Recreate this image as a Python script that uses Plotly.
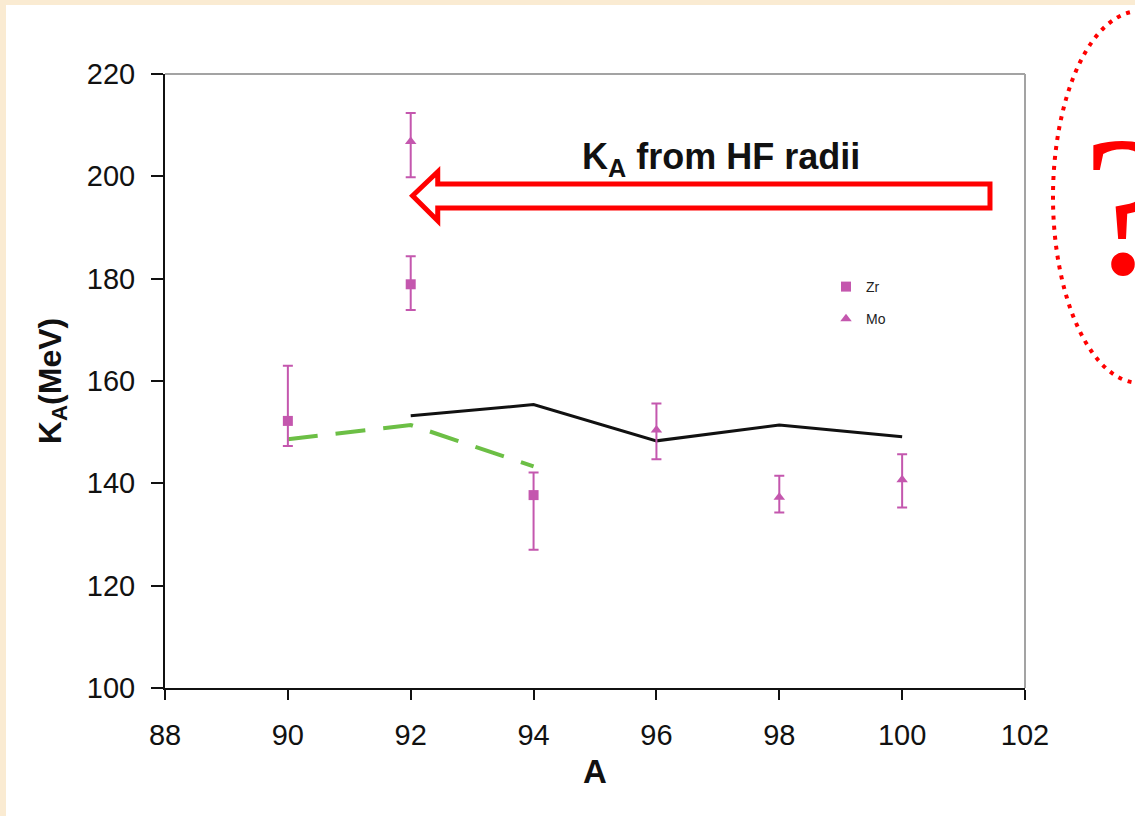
import plotly.graph_objects as go

# Measured incompressibility K_A for Zr and Mo isotopes
A_zr = [90, 92, 94]
K_zr = [152.2, 178.9, 137.7]
zr_err_plus = [10.8, 5.5, 4.4]
zr_err_minus = [4.9, 5.0, 10.7]

A_mo = [92, 96, 98, 100]
K_mo = [206.8, 150.4, 137.3, 140.7]
mo_err_plus = [5.6, 5.2, 4.2, 5.0]
mo_err_minus = [7.0, 5.7, 3.0, 5.4]

# Calculated curves
A_calc = [92, 94, 96, 98, 100]
K_calc = [153.2, 155.4, 148.3, 151.4, 149.1]

A_calc2 = [90, 92, 94]
K_calc2 = [148.6, 151.4, 143.3]

x_ticks = [88, 90, 92, 94, 96, 98, 100, 102]
y_ticks = [100, 120, 140, 160, 180, 200, 220]

W, H = 1135, 816
L, R, T, B = 165, 110, 74, 128
PW, PH = W - L - R, H - T - B


def px(x):
    return (x - L) / PW


def py(y):
    return (H - B - y) / PH


FONT = "Liberation Sans, Arial, sans-serif"
MAG = "#C457AE"

fig = go.Figure()

fig.add_trace(go.Scatter(
    x=A_calc2, y=K_calc2, mode="lines", showlegend=False,
    line=dict(color="#6CBF45", width=4, dash="30px,18px"),
))
fig.add_trace(go.Scatter(
    x=A_calc, y=K_calc, mode="lines", showlegend=False,
    line=dict(color="#111111", width=3),
))
fig.add_trace(go.Scatter(
    x=A_zr, y=K_zr, mode="markers", name="Zr", legendgroup="zr",
    marker=dict(symbol="square", size=10, color=MAG),
    error_y=dict(type="data", symmetric=False, array=zr_err_plus,
                 arrayminus=zr_err_minus, color=MAG, thickness=2, width=5),
))
fig.add_trace(go.Scatter(
    x=A_mo, y=K_mo, mode="markers", name="Mo", legendgroup="mo",
    marker=dict(symbol="triangle-up", size=10, color=MAG),
    error_y=dict(type="data", symmetric=False, array=mo_err_plus,
                 arrayminus=mo_err_minus, color=MAG, thickness=2, width=5),
))

shapes = [
    # white page on the beige background
    dict(type="rect", xref="paper", yref="paper", layer="below",
         x0=px(6), x1=px(W + 5), y0=py(H + 5), y1=py(5),
         fillcolor="white", line=dict(width=0)),
    # grey frame on the top and right of the plot area
    dict(type="line", xref="paper", yref="paper", x0=0, x1=1, y0=1, y1=1,
         line=dict(color="#A3A3A3", width=2)),
    dict(type="line", xref="paper", yref="paper", x0=1, x1=1, y0=0, y1=1,
         line=dict(color="#A3A3A3", width=2)),
    # hollow arrow pointing left
    dict(type="path", xref="x", yref="y",
         path="M 101.43,198.5 L 92.44,198.5 L 92.44,200.9 L 92.03,196.2 "
              "L 92.44,191.3 L 92.44,193.8 L 101.43,193.8 Z",
         line=dict(color="#FF0000", width=5), fillcolor="white"),
    # dotted ellipse around the question mark
    dict(type="circle", xref="paper", yref="paper",
         x0=px(1053), x1=px(1227), y0=py(383), y1=py(11),
         line=dict(color="#FF0000", width=4, dash="4px,6px")),
]

annotations = [
    dict(text="<b>K<sub>A</sub> from HF radii</b>", x=97.05, y=203.4,
         xref="x", yref="y", showarrow=False,
         font=dict(family=FONT, size=36, color="#111111")),
    dict(text="?", x=px(1127), y=py(205), xref="paper", yref="paper",
         showarrow=False, xanchor="center", yanchor="middle",
         font=dict(family="Liberation Serif, Times New Roman, serif",
                   size=200, color="#FF0000")),
]

fig.update_layout(
    width=W, height=H,
    margin=dict(l=L, r=R, t=T, b=B, autoexpand=False),
    paper_bgcolor="#FAEBD2",
    plot_bgcolor="white",
    shapes=shapes,
    annotations=annotations,
    showlegend=True,
    legend=dict(x=px(826), y=py(271), xanchor="left", yanchor="top",
                bgcolor="rgba(0,0,0,0)",
                font=dict(family=FONT, size=14, color="#222222"),
                tracegroupgap=11, itemwidth=30),
    font=dict(family=FONT, color="#111111"),
)

fig.update_xaxes(
    range=[88, 102], tickvals=x_ticks, ticktext=[str(v) for v in x_ticks],
    showgrid=False, zeroline=False, showline=True, linecolor="#111111",
    linewidth=2, ticks="outside", ticklen=10, tickwidth=2, tickcolor="#111111",
    tickfont=dict(family=FONT, size=29, color="#111111"),
    ticklabelstandoff=10,
    title=dict(text="<b>A</b>", font=dict(family=FONT, size=33, color="#111111"),
               standoff=10),
)
fig.update_yaxes(
    range=[100, 220], tickvals=y_ticks, ticktext=[str(v) for v in y_ticks],
    showgrid=False, zeroline=False, showline=True, linecolor="#111111",
    linewidth=2, ticks="outside", ticklen=12, tickwidth=2, tickcolor="#111111",
    tickfont=dict(family=FONT, size=29, color="#111111"),
    ticklabelstandoff=10,
    title=dict(text="<b>K<sub>A</sub>(MeV)</b>",
               font=dict(family=FONT, size=32, color="#111111"), standoff=16),
)

fig.write_html("out.html")
